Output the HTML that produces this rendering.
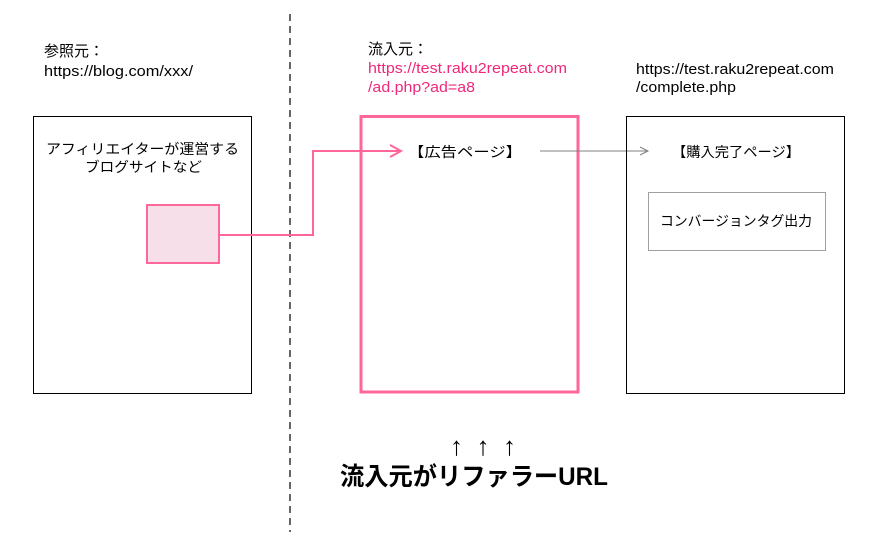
<!DOCTYPE html>
<html><head><meta charset="utf-8"><style>
html,body{margin:0;padding:0;background:#fff;}
svg{display:block;}
text{font-family:"Liberation Sans","Noto Sans CJK JP",sans-serif;}
</style></head><body>
<svg width="888" height="552" viewBox="0 0 888 552" xmlns="http://www.w3.org/2000/svg">
<line x1="290" y1="14" x2="290" y2="532" stroke="#000" stroke-width="1.2" stroke-dasharray="7,5"/>
<text x="44" y="56" font-size="15" fill="#000" textLength="60" lengthAdjust="spacingAndGlyphs">参照元：</text>
<text x="44" y="76" font-size="15" fill="#000" textLength="149" lengthAdjust="spacingAndGlyphs">https://blog.com/xxx/</text>
<text x="368" y="54" font-size="15" fill="#000" textLength="60" lengthAdjust="spacingAndGlyphs">流入元：</text>
<text x="368" y="73" font-size="15" fill="#f0287a" textLength="199" lengthAdjust="spacingAndGlyphs">https://test.raku2repeat.com</text>
<text x="368" y="92" font-size="15" fill="#f0287a" textLength="107" lengthAdjust="spacingAndGlyphs">/ad.php?ad=a8</text>
<text x="636" y="74" font-size="15" fill="#000" textLength="198" lengthAdjust="spacingAndGlyphs">https://test.raku2repeat.com</text>
<text x="636" y="92" font-size="15" fill="#000" textLength="100" lengthAdjust="spacingAndGlyphs">/complete.php</text>
<rect x="33.5" y="116.5" width="218" height="277" fill="none" stroke="#000" stroke-width="1"/>
<text x="46" y="154" font-size="14" textLength="193" lengthAdjust="spacingAndGlyphs">アフィリエイターが運営する</text>
<text x="85" y="172" font-size="14" textLength="117" lengthAdjust="spacingAndGlyphs">ブログサイトなど</text>
<rect x="147" y="205" width="72" height="58" fill="#f6dfe8" stroke="#ff6699" stroke-width="2"/>
<polyline points="219,235 313,235 313,151 401,151" fill="none" stroke="#ff6699" stroke-width="2"/>
<polyline points="390,145 401,151 390,157" fill="none" stroke="#ff6699" stroke-width="2"/>
<rect x="361" y="116.5" width="217" height="275.5" fill="none" stroke="#ff6699" stroke-width="3"/>
<text x="408" y="157" font-size="14" textLength="114" lengthAdjust="spacingAndGlyphs">【広告ページ】</text>
<line x1="540" y1="151" x2="648" y2="151" stroke="#808080" stroke-width="1"/>
<polyline points="640,147 648,151 640,155" fill="none" stroke="#808080" stroke-width="1"/>
<rect x="626.5" y="116.5" width="218" height="277" fill="none" stroke="#000" stroke-width="1"/>
<text x="672" y="157" font-size="14" textLength="128" lengthAdjust="spacingAndGlyphs">【購入完了ページ】</text>
<rect x="648.5" y="192.5" width="177" height="58" fill="none" stroke="#a0a0a0" stroke-width="1"/>
<text x="660" y="226" font-size="14" textLength="152" lengthAdjust="spacingAndGlyphs">コンバージョンタグ出力</text>
<text x="450" y="455" font-size="26" font-weight="bold" textLength="66" lengthAdjust="spacing">↑ ↑ ↑</text>
<text x="340" y="485" font-size="25" font-weight="bold" textLength="268" lengthAdjust="spacingAndGlyphs">流入元がリファラーURL</text>
</svg>
</body></html>
